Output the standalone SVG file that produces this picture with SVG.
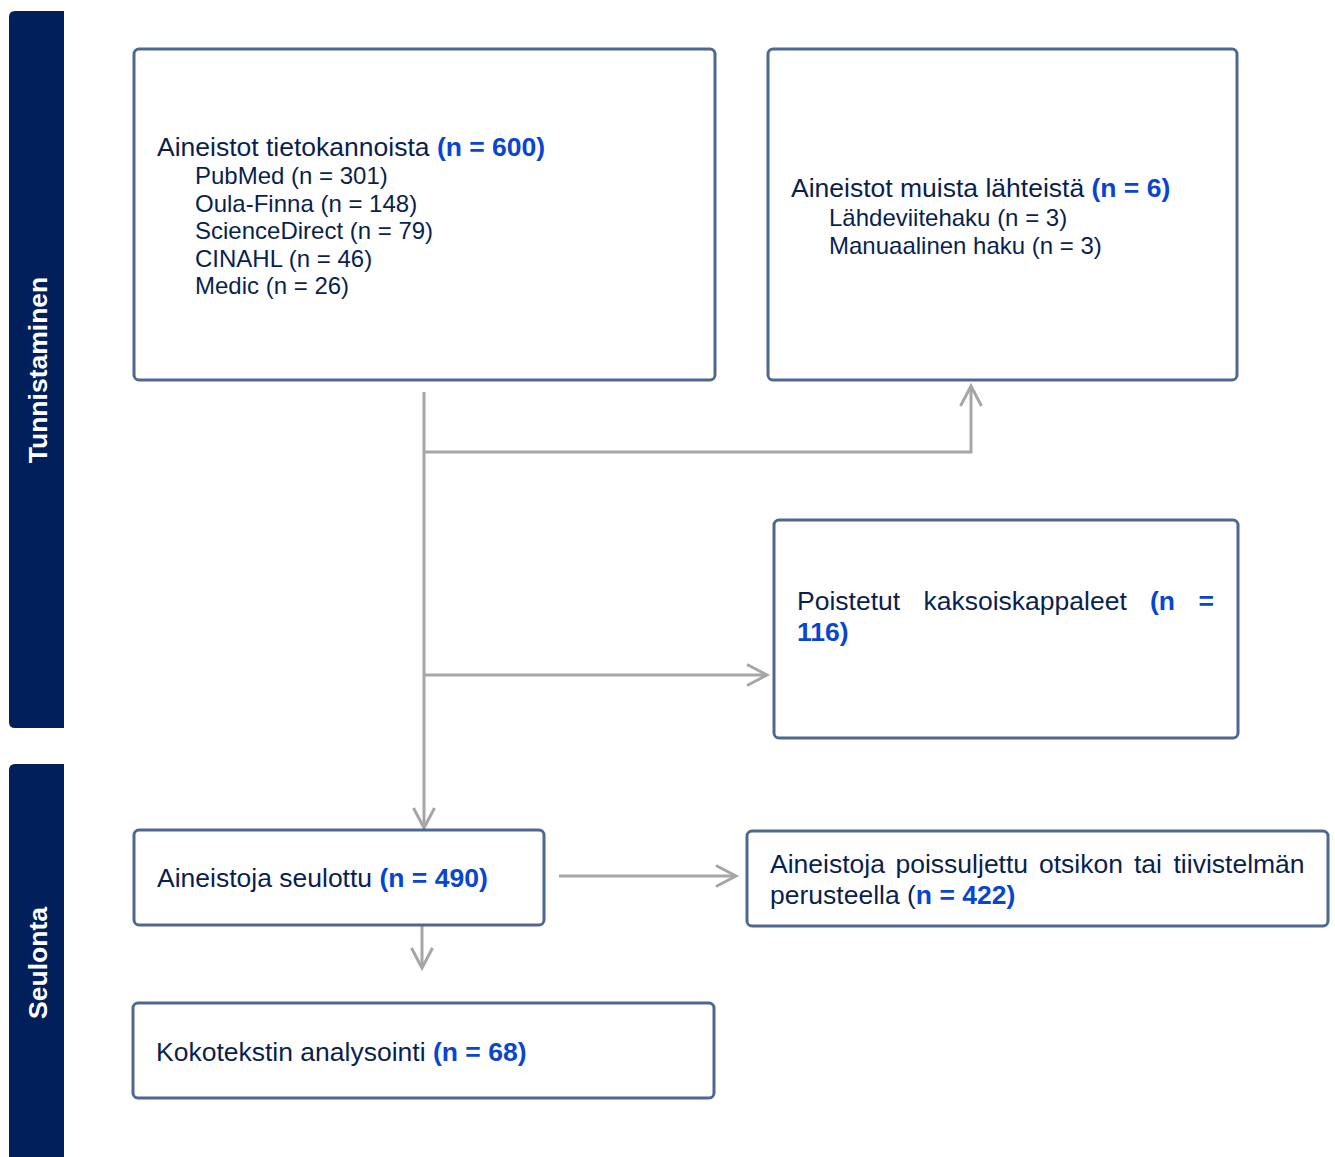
<svg xmlns="http://www.w3.org/2000/svg" width="1335" height="1157" viewBox="0 0 1335 1157">
<style>
.box{fill:#ffffff;stroke:#4e6890;stroke-width:3}
.bar{fill:#001f5b}
.t{font-family:"Liberation Sans",Arial,sans-serif;font-size:26.5px;fill:#0b1f4f}
.s{font-size:24px}
.b{font-weight:bold;fill:#0845d0}
.side{font-family:"Liberation Sans",Arial,sans-serif;font-size:26.5px;font-weight:bold;fill:#ffffff;text-anchor:middle}
.c{fill:none;stroke:#a6a6a6;stroke-width:3}
</style>
<defs>
<marker id="ah" markerUnits="userSpaceOnUse" markerWidth="30" markerHeight="30" viewBox="-25 -15 30 30" refX="0" refY="0" orient="auto">
<path d="M-20,-10.5 L0,0 L-20,10.5" fill="none" stroke="#a6a6a6" stroke-width="3"/>
</marker>
</defs>
<g id="phase-tunnistaminen">
<path class="bar" d="M64,11 H15 Q9,11 9,17 V722 Q9,728 15,728 H64 Z"/>
<text class="side" transform="translate(46.5,370) rotate(-90)">Tunnistaminen</text>
</g>
<g id="phase-seulonta">
<path class="bar" d="M64,764 H15 Q9,764 9,770 V1157 H64 Z"/>
<text class="side" transform="translate(46.5,963) rotate(-90)">Seulonta</text>
</g>
<g id="connectors">
<path class="c" d="M424,392 V828" marker-end="url(#ah)"/>
<path class="c" d="M424,452 H971 V386" marker-end="url(#ah)"/>
<path class="c" d="M424,675 H767" marker-end="url(#ah)"/>
<path class="c" d="M559,876 H736" marker-end="url(#ah)"/>
<path class="c" d="M422,926 V968" marker-end="url(#ah)"/>
</g>
<g id="node-databases">
<rect class="box" x="134" y="49" width="581" height="331" rx="5"/>
<text class="t" x="157" y="156">Aineistot tietokannoista <tspan class="b">(n = 600)</tspan></text>
<text class="t s" x="195" y="184">PubMed (n = 301)</text>
<text class="t s" x="195" y="211.5">Oula-Finna (n = 148)</text>
<text class="t s" x="195" y="239">ScienceDirect (n = 79)</text>
<text class="t s" x="195" y="266.5">CINAHL (n = 46)</text>
<text class="t s" x="195" y="294">Medic (n = 26)</text>
</g>
<g id="node-other-sources">
<rect class="box" x="768" y="49" width="469" height="331" rx="5"/>
<text class="t" x="791" y="197">Aineistot muista lähteistä <tspan class="b">(n = 6)</tspan></text>
<text class="t s" x="829" y="226">Lähdeviitehaku (n = 3)</text>
<text class="t s" x="829" y="254">Manuaalinen haku (n = 3)</text>
</g>
<g id="node-duplicates">
<rect class="box" x="774" y="520" width="464" height="218" rx="5"/>
<text class="t" y="610"><tspan x="797">Poistetut</tspan><tspan x="923.5">kaksoiskappaleet</tspan><tspan class="b" x="1150">(n</tspan><tspan class="b" x="1198.5">=</tspan></text>
<text class="t b" x="797" y="641">116)</text>
</g>
<g id="node-screened">
<rect class="box" x="134" y="830" width="410" height="95" rx="5"/>
<text class="t" x="157" y="887">Aineistoja seulottu <tspan class="b">(n = 490)</tspan></text>
</g>
<g id="node-excluded">
<rect class="box" x="747" y="831" width="581" height="95" rx="5"/>
<text class="t" y="873"><tspan x="770">Aineistoja</tspan><tspan x="895.5">poissuljettu</tspan><tspan x="1039">otsikon</tspan><tspan x="1134">tai</tspan><tspan x="1173.5">tiivistelmän</tspan></text>
<text class="t" x="770" y="904">perusteella (<tspan class="b">n = 422)</tspan></text>
</g>
<g id="node-fulltext">
<rect class="box" x="133" y="1003" width="581" height="95" rx="5"/>
<text class="t" x="156" y="1061">Kokotekstin analysointi <tspan class="b">(n = 68)</tspan></text>
</g>
</svg>
